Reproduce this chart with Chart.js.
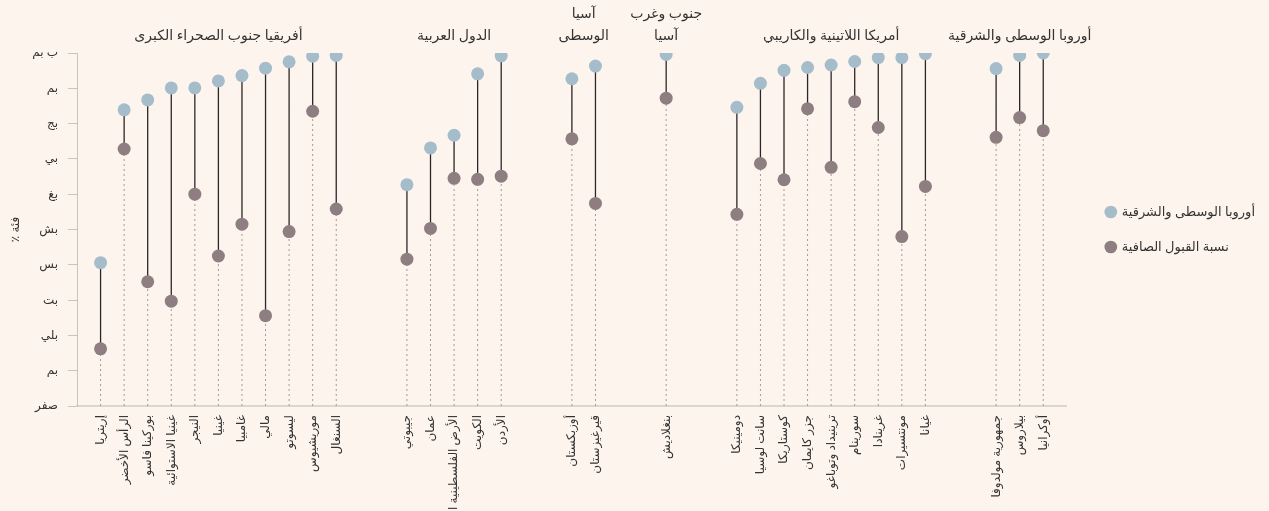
<!DOCTYPE html>
<html lang="ar">
<head>
<meta charset="utf-8">
<script src="https://cdn.jsdelivr.net/npm/chart.js@4.4.1/dist/chart.umd.min.js"></script>
<style>
  html, body { margin: 0; padding: 0; background: #fdf5ed; }
  #wrap { width: 1269px; height: 511px; }
</style>
</head>
<body>
<div id="wrap"><canvas id="chart" width="1269" height="511"></canvas></div>
<script>
const groupNames = [
    'أفريقيا جنوب الصحراء الكبرى',
    'الدول العربية',
    ['آسيا', 'الوسطى'],
    ['جنوب وغرب', 'آسيا'],
    'أمريكا اللاتينية والكاريبي',
    'أوروبا الوسطى والشرقية'
];
const groupSizes = [11, 5, 2, 1, 9, 3];

const countries = [
    'إريتريا', 'الرأس الأخضر', 'بوركينا فاسو', 'غينيا الاستوائية', 'النيجر', 'غينيا',
    'غامبيا', 'مالي', 'ليسوتو', 'موريشيوس', 'السنغال',
    'جيبوتي', 'عمان', 'الأرض الفلسطينية المحتلة', 'الكويت', 'الأردن',
    'أوزبكستان', 'قيرغيزستان',
    'بنغلاديش',
    'دومينيكا', 'سانت لوسيا', 'كوستاريكا', 'جزر كايمان', 'ترينيداد وتوباغو', 'سورينام',
    'غرينادا', 'مونتسيرات', 'غيانا',
    'جمهورية مولدوفا', 'بيلاروس', 'أوكرانيا'
];

const upperValues = [
    40.6, 83.9, 86.7, 90.1, 90.1, 92.1, 93.6, 95.7, 97.5, 99.1, 99.3,
    62.7, 73.1, 76.7, 94.1, 99.2,
    92.7, 96.3,
    99.6,
    84.6, 91.4, 95.1, 95.9, 96.6, 97.6, 98.7, 98.7, 99.8,
    95.6, 99.3, 100
];
const netValues = [
    16.2, 72.8, 35.2, 29.7, 60.0, 42.5, 51.5, 25.6, 49.4, 83.5, 55.8,
    41.6, 50.3, 64.5, 64.2, 65.1,
    75.7, 57.4,
    87.2,
    54.3, 68.7, 64.1, 84.2, 67.6, 86.2, 78.9, 48.0, 62.2,
    76.1, 81.7, 78.0
];

const yTickLabels = ['صفر', 'بم', 'بلي', 'بت', 'بس', 'بش', 'بغ', 'بي', 'بج', 'بم', 'ب بم'];
const seriesNames = ['أوروبا الوسطى والشرقية', 'نسبة القبول الصافية'];
const yTitle = '٪ فئة';

const FONT = "'Noto Sans', 'DejaVu Sans', sans-serif";

// one empty slot before the first country, two between groups
const xPos = [];
const groupSpans = [];
let slot = 1;
groupSizes.forEach(n => {
    groupSpans.push([slot, slot + n - 1]);
    for (let i = 0; i < n; i++) xPos.push(slot + i);
    slot += n + 2;
});
const xMax = slot - 2;

const axisLabels = {};
xPos.forEach((x, i) => { axisLabels[x] = countries[i]; });

const stems = [];
const drops = [];
xPos.forEach((x, i) => {
    stems.push({x: x, y: netValues[i]}, {x: x, y: upperValues[i]}, {x: x, y: null});
    drops.push({x: x, y: 0}, {x: x, y: netValues[i]}, {x: x, y: null});
});

const groupLabels = {
    id: 'groupLabels',
    afterDraw(chart) {
        const ctx = chart.ctx;
        const x = chart.scales.x;
        ctx.save();
        ctx.font = '14px ' + FONT;
        ctx.fillStyle = '#333';
        ctx.textAlign = 'center';
        ctx.textBaseline = 'middle';
        groupNames.forEach((name, g) => {
            const lines = Array.isArray(name) ? name : [name];
            const cx = (x.getPixelForValue(groupSpans[g][0]) + x.getPixelForValue(groupSpans[g][1])) / 2;
            lines.forEach((t, k) => {
                ctx.fillText(t, cx, 36 - (lines.length - 1 - k) * 22);
            });
        });
        ctx.restore();
    }
};

const ctx = document.getElementById('chart').getContext('2d');
new Chart(ctx, {
    type: 'scatter',
    data: {
        datasets: [
            {
                label: seriesNames[0],
                data: xPos.map((x, i) => ({x: x, y: upperValues[i]})),
                backgroundColor: '#a5bccb',
                borderColor: '#a5bccb',
                pointRadius: 6.5,
                pointBorderWidth: 0
            },
            {
                label: seriesNames[1],
                data: xPos.map((x, i) => ({x: x, y: netValues[i]})),
                backgroundColor: '#8f7e81',
                borderColor: '#8f7e81',
                pointRadius: 6.5,
                pointBorderWidth: 0
            },
            {
                label: 'stems',
                data: stems,
                showLine: true,
                borderColor: '#2b2626',
                borderWidth: 1.3,
                pointRadius: 0
            },
            {
                label: 'drops',
                data: drops,
                showLine: true,
                borderColor: '#a09a98',
                borderWidth: 1,
                borderDash: [2, 3],
                pointRadius: 0
            }
        ]
    },
    options: {
        responsive: false,
        animation: false,
        layout: { padding: { top: 53, left: 0, right: 4, bottom: 0 } },
        plugins: {
            tooltip: { enabled: false },
            legend: {
                position: 'right',
                fullSize: false,
                labels: {
                    filter: item => item.datasetIndex < 2,
                    usePointStyle: true,
                    pointStyle: 'circle',
                    boxWidth: 9,
                    boxHeight: 9,
                    padding: 22,
                    color: '#333',
                    font: { family: FONT, size: 13 }
                }
            }
        },
        scales: {
            x: {
                type: 'linear',
                min: 0,
                max: xMax,
                grid: { display: false },
                border: { color: '#dcd6d0', width: 2 },
                ticks: {
                    stepSize: 1,
                    autoSkip: false,
                    minRotation: 90,
                    maxRotation: 90,
                    padding: 1,
                    color: '#333',
                    font: { family: FONT, size: 12 },
                    callback: v => axisLabels[v] || ''
                },
                afterFit: scale => { scale.height = 105; }
            },
            y: {
                min: 0,
                max: 100,
                grid: { drawOnChartArea: false, color: '#c8c4c0', tickLength: 9 },
                border: { color: '#c8c4c0' },
                title: { display: true, text: yTitle, color: '#333', font: { family: FONT, size: 12 }, padding: { top: 8, bottom: 0 } },
                ticks: {
                    stepSize: 10,
                    padding: 10,
                    color: '#333',
                    font: { family: FONT, size: 12 },
                    callback: v => yTickLabels[Math.round(v / 10)]
                },
                afterFit: scale => { scale.width = 77; }
            },
            yGap: {
                position: 'right',
                min: 0,
                max: 100,
                grid: { display: false },
                border: { display: false },
                ticks: { display: false },
                afterFit: scale => { scale.width = 17.5; }
            }
        }
    },
    plugins: [groupLabels]
});
</script>
</body>
</html>
